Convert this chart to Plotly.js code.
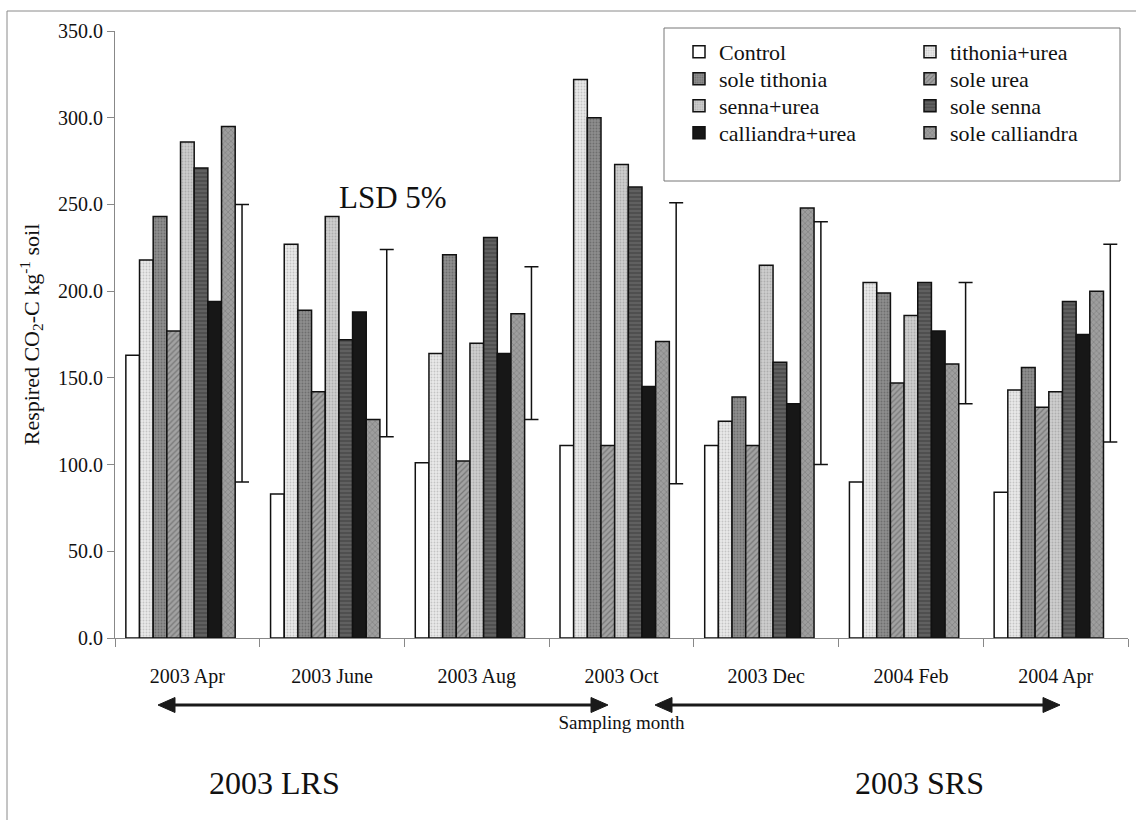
<!DOCTYPE html>
<html>
<head>
<meta charset="utf-8">
<script src="https://cdn.plot.ly/plotly-3.0.1.min.js"></script>
<style>
  html, body { margin: 0; padding: 0; background: #ffffff; }
  #chart { width: 1136px; height: 820px; }
</style>
</head>
<body>
<div id="chart"></div>
<script>
// ---- Data ----
const categories = ['2003 Apr', '2003 June', '2003 Aug', '2003 Oct', '2003 Dec', '2004 Feb', '2004 Apr'];
const control        = [163,  83, 101, 111, 111,  90,  84];
const tithoniaUrea   = [218, 227, 164, 322, 125, 205, 143];
const soleTithonia   = [243, 189, 221, 300, 139, 199, 156];
const soleUrea       = [177, 142, 102, 111, 111, 147, 133];
const sennaUrea      = [286, 243, 170, 273, 215, 186, 142];
const soleSenna      = [271, 172, 231, 260, 159, 205, 194];
const calliandraUrea = [194, 188, 164, 145, 135, 177, 175];
const soleCalliandra = [295, 126, 187, 171, 248, 158, 200];
// LSD 5% bars: centre value and half-length
const lsdCentre = [170, 170, 170, 170, 170, 170, 170];
const lsdHalf   = [80, 54, 44, 81, 70, 35, 57];

const seriesNames = ['Control', 'tithonia+urea', 'sole tithonia', 'sole urea',
                     'senna+urea', 'sole senna', 'calliandra+urea', 'sole calliandra'];
const seriesValues = [control, tithoniaUrea, soleTithonia, soleUrea,
                      sennaUrea, soleSenna, calliandraUrea, soleCalliandra];

// ---- Styles ----
const FONT = 'Liberation Serif';
const styles = [
  {color: '#ffffff', pattern: null},
  {color: '#eaeaea', pattern: {shape: '.', fgcolor: '#c4c4c4', size: 3, solidity: 0.3}},
  {color: '#8e8e8e', pattern: {shape: '.', fgcolor: '#6e6e6e', size: 3, solidity: 0.3}},
  {color: '#a2a2a2', pattern: {shape: '/', fgcolor: '#777777', size: 4, solidity: 0.3}},
  {color: '#cecece', pattern: {shape: '.', fgcolor: '#aeaeae', size: 3, solidity: 0.3}},
  {color: '#606060', pattern: {shape: '-', fgcolor: '#444444', size: 4, solidity: 0.3}},
  {color: '#171717', pattern: null},
  {color: '#9e9e9e', pattern: {shape: 'x', fgcolor: '#787878', size: 4, solidity: 0.25}}
];

// ---- Layout helpers (pixel -> paper) ----
const M = {l: 115, r: 8, t: 31, b: 182};
const PW = 1136 - M.l - M.r, PH = 820 - M.t - M.b;
const px = v => (v - M.l) / PW;
const py = v => (820 - M.b - v) / PH;

// legend grid: two columns, four rows (one legend per entry for exact placement)
const legendRowsY = [52, 79, 106, 133];
const legendColsX = [679, 910];
const legendIds = seriesNames.map((_, i) => i === 0 ? 'legend' : 'legend' + (i + 1));

const traces = seriesNames.map((name, i) => {
  const marker = {color: styles[i].color, line: {color: '#111111', width: 1.5}};
  if (styles[i].pattern) {
    marker.pattern = Object.assign({bgcolor: styles[i].color, fillmode: 'replace'}, styles[i].pattern);
  }
  return {
    type: 'bar',
    name: name,
    x: categories,
    y: seriesValues[i],
    marker: marker,
    legend: legendIds[i],
    hoverinfo: 'x+y+name'
  };
});

traces.push({
  type: 'bar',
  name: 'LSD 5%',
  x: categories,
  y: lsdCentre,
  marker: {color: 'rgba(0,0,0,0)', line: {width: 0}},
  error_y: {type: 'data', array: lsdHalf, symmetric: true, visible: true,
            color: '#111111', thickness: 1.5, width: 7},
  showlegend: false,
  hoverinfo: 'skip'
});

// arrow geometry (pixels)
const AY = 705, HL = 17, HH = 7.5;
const arrows = [[158, 608], [655, 1060]];
const arrowShapes = [];
arrows.forEach(([a, b]) => {
  arrowShapes.push({type: 'line', xref: 'paper', yref: 'paper', x0: px(a + HL - 2), x1: px(b - HL + 2),
                    y0: py(AY), y1: py(AY), line: {color: '#1a1a1a', width: 3}});
  arrowShapes.push({type: 'path', xref: 'paper', yref: 'paper',
    path: `M ${px(a)} ${py(AY)} L ${px(a + HL)} ${py(AY - HH)} L ${px(a + HL)} ${py(AY + HH)} Z`,
    fillcolor: '#1a1a1a', line: {color: '#1a1a1a', width: 1}});
  arrowShapes.push({type: 'path', xref: 'paper', yref: 'paper',
    path: `M ${px(b)} ${py(AY)} L ${px(b - HL)} ${py(AY - HH)} L ${px(b - HL)} ${py(AY + HH)} Z`,
    fillcolor: '#1a1a1a', line: {color: '#1a1a1a', width: 1}});
});

const layout = {
  width: 1136, height: 820,
  margin: M,
  paper_bgcolor: '#ffffff',
  plot_bgcolor: '#ffffff',
  barmode: 'group',
  bargap: 0.15,
  bargroupgap: 0,
  font: {family: FONT, color: '#111111'},
  showlegend: true,
  xaxis: {
    type: 'category',
    tickson: 'boundaries',
    ticks: 'outside', ticklen: 8, tickcolor: '#888888', tickwidth: 1,
    showline: true, linecolor: '#888888', linewidth: 1,
    showgrid: false, zeroline: false,
    tickfont: {family: FONT, size: 20, color: '#111111'},
    ticklabelstandoff: 20,
    title: {text: 'Sampling month', font: {family: FONT, size: 19, color: '#111111'}, standoff: 28}
  },
  yaxis: {
    range: [0, 350], dtick: 50, tickformat: '.1f',
    ticks: 'outside', ticklen: 7, tickcolor: '#888888',
    showline: true, linecolor: '#888888', linewidth: 1,
    showgrid: false, zeroline: false,
    tickfont: {family: FONT, size: 20, color: '#111111'},
    title: {text: 'Respired CO<sub>2</sub>-C kg<sup>-1</sup> soil',
            font: {family: FONT, size: 22, color: '#111111'}, standoff: 12}
  },
  shapes: [
    // legend frame
    {type: 'rect', xref: 'paper', yref: 'paper', x0: px(664), x1: px(1120), y0: py(181), y1: py(28),
     line: {color: '#777777', width: 1}, fillcolor: 'rgba(0,0,0,0)'},
    // outer chart frame (top and left edges visible)
    {type: 'line', xref: 'paper', yref: 'paper', x0: px(7), x1: px(1136), y0: py(11), y1: py(11),
     line: {color: '#8a8a8a', width: 1}},
    {type: 'line', xref: 'paper', yref: 'paper', x0: px(7), x1: px(7), y0: py(11), y1: py(820),
     line: {color: '#8a8a8a', width: 1}}
  ].concat(arrowShapes),
  annotations: [
    {text: 'LSD 5%', xref: 'paper', yref: 'paper', x: px(393), y: py(197),
     xanchor: 'center', yanchor: 'middle',
     showarrow: false, font: {family: FONT, size: 31, color: '#111111'}},
    {text: '2003 LRS', xref: 'paper', yref: 'paper', x: px(274), y: py(783),
     xanchor: 'center', yanchor: 'middle',
     showarrow: false, font: {family: FONT, size: 32, color: '#111111'}},
    {text: '2003 SRS', xref: 'paper', yref: 'paper', x: px(919), y: py(783),
     xanchor: 'center', yanchor: 'middle',
     showarrow: false, font: {family: FONT, size: 32, color: '#111111'}}
  ]
};

legendIds.forEach((id, i) => {
  layout[id] = {
    orientation: 'v', xanchor: 'left', yanchor: 'middle',
    x: px(legendColsX[i % 2]), y: py(legendRowsY[Math.floor(i / 2)]),
    font: {family: FONT, size: 22, color: '#111111'},
    bgcolor: 'rgba(0,0,0,0)', borderwidth: 0, itemwidth: 30
  };
});

Plotly.newPlot('chart', traces, layout, {displayModeBar: false, staticPlot: true});
</script>
</body>
</html>
